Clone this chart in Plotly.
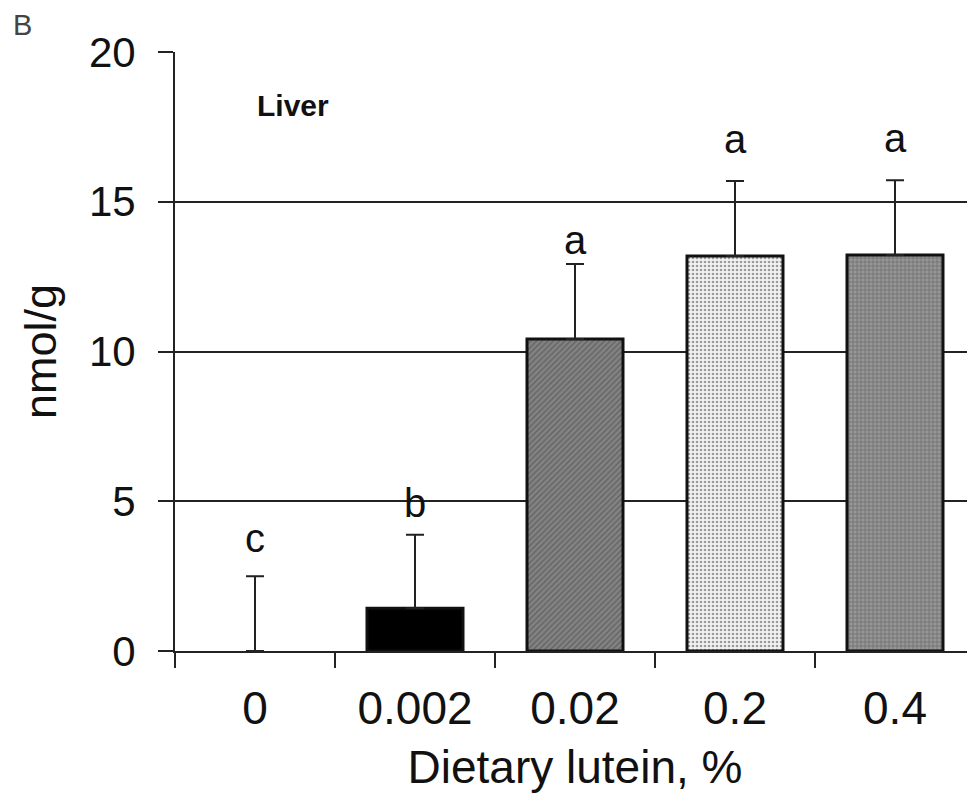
import plotly.graph_objects as go

categories = ["0", "0.002", "0.02", "0.2", "0.4"]
means = [0.0, 1.43, 10.42, 13.19, 13.22]
sem = [2.5, 2.45, 2.5, 2.5, 2.5]
letters = ["c", "b", "a", "a", "a"]

FONT = "Liberation Sans, Arial, sans-serif"

fig = go.Figure()

# pattern styles per bar
colors = ["#ffffff", "#000000", "#838383", "#f2f2f2", "#969696"]
shapes = ["", "", "/", ".", "+"]
fg = ["#000000", "#000000", "#454545", "#dcdcdc", "#363636"]
outline = [0, 3, 3, 3, 3]
letter_shift = [14, 8, 0, 18, 18]

fig.add_trace(go.Bar(
    x=categories, y=means,
    width=0.6,
    marker=dict(
        color=colors,
        line=dict(color="#111111", width=outline),
        pattern=dict(shape=shapes, fgcolor=fg, bgcolor=colors, size=4, solidity=0.35),
    ),
    error_y=dict(type="data", symmetric=False, array=sem, arrayminus=[0]*len(sem),
                 color="#222222", thickness=2, width=9),
    showlegend=False,
))

for i, (m, e, t, s) in enumerate(zip(means, sem, letters, letter_shift)):
    fig.add_annotation(x=i, y=m + e, text=t, showarrow=False, yanchor="bottom",
                       yshift=s, font=dict(family=FONT, size=40, color="#111111"))

fig.add_annotation(xref="paper", yref="paper", x=0.1, y=0.91, text="<b>Liver</b>",
                   showarrow=False, xanchor="left", yanchor="middle",
                   font=dict(family=FONT, size=30, color="#111111"))
fig.add_annotation(xref="paper", yref="paper", x=-0.205, y=1.045, text="B",
                   showarrow=False, xanchor="left", yanchor="middle",
                   font=dict(family=FONT, size=29, color="#444444"))

fig.update_layout(
    width=975, height=801,
    margin=dict(l=167, r=8, t=44, b=158),
    paper_bgcolor="white", plot_bgcolor="white",
    font=dict(family=FONT, color="#111111"),
    bargap=0.4,
)
fig.update_xaxes(
    type="category", tickson="boundaries", ticks="outside", ticklen=15, tickwidth=2,
    tickcolor="#222222", showline=True, linecolor="#222222", linewidth=2,
    showgrid=False, tickfont=dict(family=FONT, size=46), ticklabelstandoff=16,
    title=dict(text="Dietary lutein, %", font=dict(family=FONT, size=46), standoff=18),
    range=[-0.5, 4.5],
)
fig.update_yaxes(
    range=[0, 20], tickvals=[0, 5, 10, 15, 20], ticks="outside", ticklen=15, tickwidth=2,
    tickcolor="#222222", showline=True, linecolor="#222222", linewidth=2,
    showgrid=True, gridcolor="#222222", gridwidth=2, zeroline=False,
    tickfont=dict(family=FONT, size=42), ticklabelstandoff=14,
    title=dict(text="nmol/g", font=dict(family=FONT, size=45), standoff=18),
)

fig.write_html("out.html")
